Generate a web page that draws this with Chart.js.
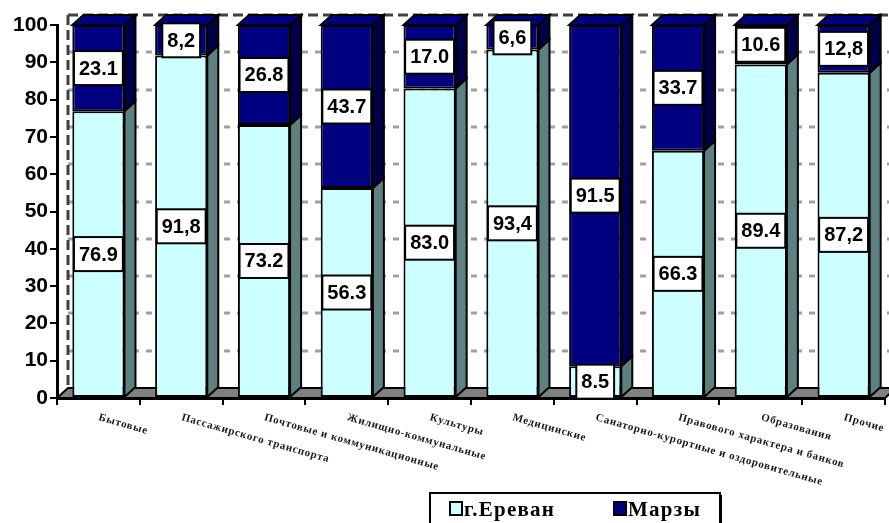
<!DOCTYPE html>
<html>
<head>
<meta charset="utf-8">
<script src="https://cdn.jsdelivr.net/npm/chart.js@4.4.0/dist/chart.umd.min.js"></script>
<style>
  html, body { margin: 0; padding: 0; background: #fff; }
</style>
</head>
<body>
<canvas id="chart" width="889" height="523"></canvas>
<script>
const categories = [
  "Бытовые",
  "Пассажирского транспорта",
  "Почтовые и коммуникационные",
  "Жилищно-коммунальные",
  "Культуры",
  "Медицинские",
  "Санаторно-курортные и оздоровительные",
  "Правового характера и банков",
  "Образования",
  "Прочие",
];
const erevanValues = [76.9, 91.8, 73.2, 56.3, 83.0, 93.4, 8.5, 66.3, 89.4, 87.2];
const marzyValues = [23.1, 8.2, 26.8, 43.7, 17.0, 6.6, 91.5, 33.7, 10.6, 12.8];
const erevanLabels = ["76.9", "91,8", "73.2", "56.3", "83.0", "93,4", "8.5", "66.3", "89.4", "87,2"];
const marzyLabels = ["23.1", "8,2", "26.8", "43.7", "17.0", "6,6", "91.5", "33.7", "10.6", "12,8"];

// 3d depth offset of the back plane
const DX = 11;
const DY = -10;

function poly(ctx, pts, fill) {
  ctx.beginPath();
  ctx.moveTo(pts[0][0], pts[0][1]);
  for (let i = 1; i < pts.length; i++) ctx.lineTo(pts[i][0], pts[i][1]);
  ctx.closePath();
  ctx.fillStyle = fill;
  ctx.fill();
  ctx.stroke();
}

// floor, back wall gridlines
const backWall = {
  id: "backWall",
  beforeDatasetsDraw(chart) {
    const { ctx, chartArea: a, scales } = chart;
    const y = scales.y;
    ctx.save();
    ctx.lineWidth = 2;
    ctx.strokeStyle = "#000";
    poly(ctx, [[a.left, a.bottom], [a.right, a.bottom], [a.right + DX, a.bottom + DY], [a.left + DX, a.bottom + DY]], "#808080");

    for (let v = 10; v <= 100; v += 10) {
      const py = Math.round(y.getPixelForValue(v) + DY);
      ctx.beginPath();
      ctx.setLineDash(v === 100 ? [10, 5] : [6, 7]);
      ctx.strokeStyle = v === 100 ? "#404040" : "#a0a0a0";
      ctx.lineWidth = 3;
      ctx.moveTo(a.left + DX, py);
      ctx.lineTo(a.right + DX, py);
      ctx.stroke();
    }
    // left back edge
    ctx.beginPath();
    ctx.setLineDash([10, 5]);
    ctx.strokeStyle = "#404040";
    ctx.lineWidth = 3;
    ctx.moveTo(a.left + DX, y.getPixelForValue(100) + DY);
    ctx.lineTo(a.left + DX, a.bottom + DY);
    ctx.stroke();
    ctx.restore();
  },
};

// side / top faces and value boxes
const barFaces = {
  id: "barFaces",
  afterDatasetsDraw(chart) {
    const ctx = chart.ctx;
    const n = chart.data.datasets.length;
    ctx.save();
    ctx.setLineDash([]);
    ctx.lineWidth = 2;
    ctx.strokeStyle = "#000";
    chart.data.datasets.forEach((ds, di) => {
      chart.getDatasetMeta(di).data.forEach((bar) => {
        const { x, y, base, width } = bar.getProps(["x", "y", "base", "width"], true);
        const l = x - width / 2, r = x + width / 2;
        poly(ctx, [[r, y], [r + DX, y + DY], [r + DX, base + DY], [r, base]], ds.sideColor);
        if (di === n - 1) {
          poly(ctx, [[l, y], [l + DX, y + DY], [r + DX, y + DY], [r, y]], ds.topColor);
        }
      });
    });

    ctx.font = "bold 20px 'Liberation Sans', Arial, sans-serif";
    ctx.textAlign = "center";
    ctx.textBaseline = "middle";
    chart.data.datasets.forEach((ds, di) => {
      chart.getDatasetMeta(di).data.forEach((bar, i) => {
        const { x, y, base } = bar.getProps(["x", "y", "base"], true);
        const txt = ds.valueLabels[i];
        const cy = (y + base) / 2;
        const w = ctx.measureText(txt).width + 10;
        const h = 34;
        ctx.fillStyle = "#fff";
        ctx.fillRect(x - w / 2, cy - h / 2, w, h);
        ctx.strokeRect(x - w / 2, cy - h / 2, w, h);
        ctx.fillStyle = "#000";
        ctx.fillText(txt, x, cy + 1);
      });
    });
    ctx.restore();
  },
};

// slanted category names and the legend box
const labelsAndLegend = {
  id: "labelsAndLegend",
  afterDraw(chart) {
    const { ctx, chartArea: a, scales } = chart;
    ctx.save();
    ctx.font = "bold 11px 'Liberation Serif', 'Times New Roman', serif";
    ctx.letterSpacing = "0.7px";
    ctx.fillStyle = "#1a1a1a";
    ctx.textAlign = "left";
    ctx.textBaseline = "top";
    categories.forEach((c, i) => {
      const px = scales.x.getPixelForValue(i);
      ctx.save();
      ctx.translate(px + 2, a.bottom + 14);
      ctx.rotate((16 * Math.PI) / 180);
      ctx.fillText(c, 0, 0);
      ctx.restore();
    });

    // legend
    const lx = 430, ly = 493, lw = 290, lh = 40;
    ctx.lineWidth = 2;
    ctx.strokeStyle = "#000";
    ctx.fillStyle = "#fff";
    ctx.fillRect(lx, ly, lw, lh);
    ctx.strokeRect(lx, ly, lw, lh);
    ctx.fillStyle = "#000";
    ctx.fillRect(lx + lw, ly + 2, 2, lh);
    ctx.font = "bold 21px 'Liberation Serif', 'Times New Roman', serif";
    ctx.letterSpacing = "1.2px";
    ctx.textBaseline = "alphabetic";
    const items = [
      { x: 450, ds: chart.data.datasets[0] },
      { x: 614, ds: chart.data.datasets[1] },
    ];
    items.forEach((it) => {
      ctx.fillStyle = it.ds.backgroundColor;
      ctx.fillRect(it.x, 502, 12, 13);
      ctx.strokeRect(it.x, 502, 12, 13);
      ctx.fillStyle = "#000";
      ctx.fillText(it.ds.label, it.x + 14, 516);
    });
    ctx.restore();
  },
};

new Chart(document.getElementById("chart"), {
  type: "bar",
  data: {
    labels: categories,
    datasets: [
      {
        label: "г.Ереван",
        data: erevanValues,
        valueLabels: erevanLabels,
        backgroundColor: "#ccffff",
        sideColor: "#5f8080",
        topColor: "#ccffff",
        borderColor: "#000",
        borderWidth: 2,
        borderSkipped: false,
      },
      {
        label: "Марзы",
        data: marzyValues,
        valueLabels: marzyLabels,
        backgroundColor: "#000080",
        sideColor: "#000046",
        topColor: "#000080",
        borderColor: "#000",
        borderWidth: 2,
        borderSkipped: false,
      },
    ],
  },
  options: {
    responsive: false,
    animation: false,
    layout: { padding: { top: 25, right: 4, left: 0, bottom: 0 } },
    categoryPercentage: 1,
    barPercentage: 0.63,
    plugins: {
      legend: { display: false },
      tooltip: { enabled: false },
    },
    scales: {
      x: {
        stacked: true,
        afterFit: (s) => { s.height = 125; },
        ticks: { display: false },
        grid: { offset: true, drawOnChartArea: false, tickLength: 7, color: "#000", lineWidth: 2 },
        border: { color: "#000", width: 3 },
      },
      y: {
        stacked: true,
        min: 0,
        max: 100,
        afterFit: (s) => { s.width = 57; },
        ticks: {
          stepSize: 10,
          padding: 2,
          color: "#000",
          font: { family: "'Liberation Sans', Arial, sans-serif", size: 21, weight: "bold" },
        },
        grid: { drawOnChartArea: false, tickLength: 7, color: "#000", lineWidth: 2 },
        border: { color: "#000", width: 3 },
      },
    },
  },
  plugins: [backWall, barFaces, labelsAndLegend],
});
</script>
</body>
</html>
